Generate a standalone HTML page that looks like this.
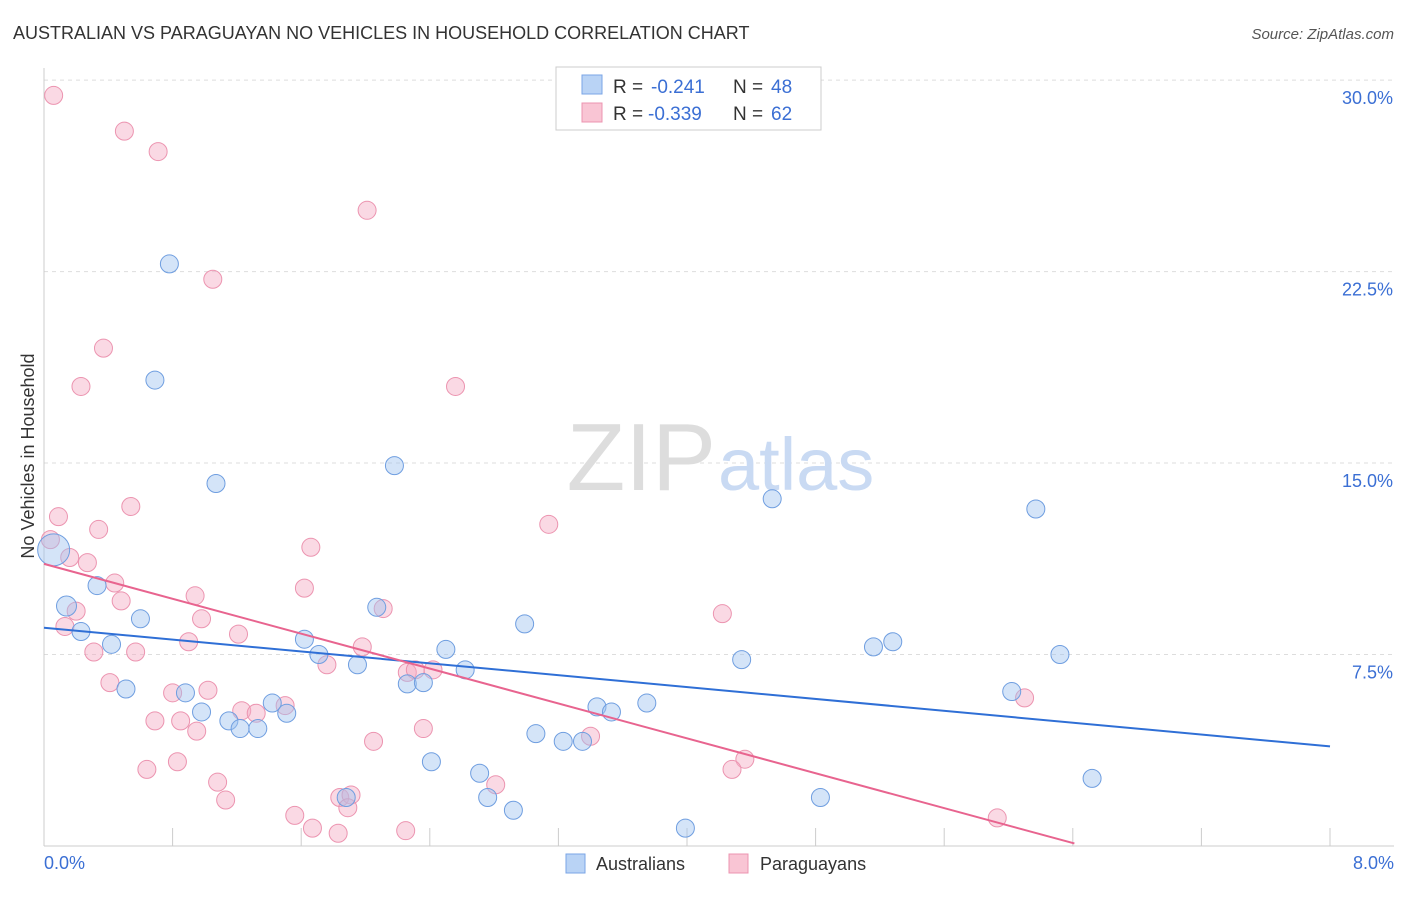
<!DOCTYPE html>
<html><head><meta charset="utf-8"><style>
body{margin:0;background:#fff;font-family:"Liberation Sans",sans-serif;}
svg text{font-family:"Liberation Sans",sans-serif;}
</style></head><body>
<svg width="1406" height="892">
<text x="13" y="39" font-size="18" fill="#333">AUSTRALIAN VS PARAGUAYAN NO VEHICLES IN HOUSEHOLD CORRELATION CHART</text>
<text x="1394" y="39" font-size="15" fill="#555" font-style="italic" text-anchor="end">Source: ZipAtlas.com</text>
<g id="grid"></g>
<line x1="44" y1="68" x2="44" y2="846" stroke="#ccc"/>
<line x1="44" y1="846" x2="1394" y2="846" stroke="#ccc"/>
<g id="xt"></g>
<text x="44" y="869" font-size="18" fill="#3b6fd4">0.0%</text>
<text x="1394" y="869" font-size="18" fill="#3b6fd4" text-anchor="end">8.0%</text>
<text transform="translate(34,456) rotate(-90)" font-size="18" fill="#333" text-anchor="middle">No Vehicles in Household</text>
<text x="716" y="490" font-size="96" fill="#ddd" text-anchor="end" font-family="Liberation Serif">ZIP</text>
<text x="718" y="490" font-size="74" fill="#c9daf3">atlas</text>
<g id="pts"></g>
<g id="lines"></g>
<g>
<rect x="556" y="67" width="265" height="63" fill="#fff" stroke="#ccc"/>
<rect x="582" y="75" width="20" height="19" fill="#b9d3f5" stroke="#7aa5e6"/>
<rect x="582" y="103" width="20" height="19" fill="#f9c5d4" stroke="#ec94b0"/>
<text x="613" y="93" font-size="19" fill="#333">R =</text>
<text x="651" y="93" font-size="19" fill="#3b6fd4">-0.241</text>
<text x="733" y="93" font-size="19" fill="#333">N =</text>
<text x="771" y="93" font-size="19" fill="#3b6fd4">48</text>
<text x="613" y="120" font-size="19" fill="#333">R =</text>
<text x="648" y="120" font-size="19" fill="#3b6fd4">-0.339</text>
<text x="733" y="120" font-size="19" fill="#333">N =</text>
<text x="771" y="120" font-size="19" fill="#3b6fd4">62</text>
</g>
<g>
<rect x="566" y="854" width="19" height="19" fill="#b9d3f5" stroke="#7aa5e6"/>
<text x="596" y="870" font-size="18" fill="#333">Australians</text>
<rect x="729" y="854" width="19" height="19" fill="#f9c5d4" stroke="#ec94b0"/>
<text x="760" y="870" font-size="18" fill="#333">Paraguayans</text>
</g>
</svg>
<script>
const yTicks=[7.5,15,22.5,30];
const yTickLabels=["7.5%","15.0%","22.5%","30.0%"];
const blueX=[0.06,0.14,0.23,0.33,0.42,0.51,0.6,0.69,0.78,0.88,0.98,1.07,1.15,1.22,1.33,1.42,1.51,1.62,1.71,1.95,2.07,2.18,2.26,2.36,2.41,2.5,2.62,2.71,2.76,2.92,2.99,3.06,3.23,3.35,3.44,3.53,3.75,3.99,4.34,4.53,4.83,5.16,5.28,6.02,6.17,6.32,6.52,1.88];
const blueY=[11.6,9.4,8.4,10.2,7.9,6.15,8.9,18.25,22.8,6.0,5.25,14.2,4.9,4.6,4.6,5.6,5.2,8.1,7.5,7.1,9.35,14.9,6.35,6.4,3.3,7.7,6.9,2.85,1.9,1.4,8.7,4.4,4.1,4.1,5.45,5.25,5.6,0.7,7.3,13.6,1.9,7.8,8.0,6.05,13.2,7.5,2.65,1.9];
const blueR=[16,10,9,9,9,9,9,9,9,9,9,9,9,9,9,9,9,9,9,9,9,9,9,9,9,9,9,9,9,9,9,9,9,9,9,9,9,9,9,9,9,9,9,9,9,9,9,9];
const pinkX=[0.06,0.5,0.71,2.01,1.05,0.37,0.23,2.56,0.54,0.09,0.34,3.14,1.66,0.04,0.16,0.27,0.44,1.62,0.94,0.48,0.2,2.11,0.98,0.13,1.21,0.9,0.31,0.57,1.98,1.76,2.26,2.31,2.42,4.22,0.41,0.8,1.02,1.5,1.23,1.32,0.69,0.85,0.95,2.36,3.4,2.05,0.83,0.64,1.08,4.36,4.28,2.81,1.13,1.84,1.91,1.89,1.56,1.67,1.83,2.25,6.1,5.93];
const pinkY=[29.4,28.0,27.2,24.9,22.2,19.5,18.0,18.0,13.3,12.9,12.4,12.6,11.7,12.0,11.3,11.1,10.3,10.1,9.8,9.6,9.2,9.3,8.9,8.6,8.3,8.0,7.6,7.6,7.8,7.1,6.8,6.9,6.9,9.1,6.4,6.0,6.1,5.5,5.3,5.2,4.9,4.9,4.5,4.6,4.3,4.1,3.3,3.0,2.5,3.4,3.0,2.4,1.8,1.9,2.0,1.5,1.2,0.7,0.5,0.6,5.8,1.1];
const blueTrend=[0,8.55,8,3.9];
const pinkTrend=[0,11.05,6.41,0.1];
const X=v=>44+v/8*1286, Y=v=>846-v*25.53;
const NS="http://www.w3.org/2000/svg";
function mk(t,a,p){const e=document.createElementNS(NS,t);for(const k in a)e.setAttribute(k,a[k]);p.appendChild(e);return e;}
const grid=document.getElementById('grid');
yTicks.forEach((v,i)=>{
 const l=mk('line',{x1:44,x2:1394,y1:Y(v),y2:Y(v),stroke:'#ddd','stroke-dasharray':'4,4'},grid);
 
 
 const t=mk('text',{x:1393,y:Y(v)+24,'font-size':18,fill:'#3b6fd4','text-anchor':'end'},grid);
 t.textContent=yTickLabels[i];
 
 
});
const xt=document.getElementById('xt');
for(let i=1;i<=10;i++){const l=mk('line',{x1:X(i*0.8),x2:X(i*0.8),y1:828,y2:846,stroke:'#ccc'},xt);
 
 }
const pts=document.getElementById('pts');
pinkX.forEach((x,i)=>{const c=mk('circle',{cx:X(x),cy:Y(pinkY[i]),r:9,fill:'rgba(245,170,195,0.45)',stroke:'#ec94b0','stroke-width':1},pts);
 
 });
blueX.forEach((x,i)=>{const c=mk('circle',{cx:X(x),cy:Y(blueY[i]),r:blueR[i],fill:'rgba(160,195,240,0.45)',stroke:'#6f9ee0','stroke-width':1},pts);
 
 });
const ln=document.getElementById('lines');
const b=mk('line',{x1:X(blueTrend[0]),y1:Y(blueTrend[1]),x2:X(blueTrend[2]),y2:Y(blueTrend[3]),stroke:'#2f6fd6','stroke-width':2},ln);


const p=mk('line',{x1:X(pinkTrend[0]),y1:Y(pinkTrend[1]),x2:X(pinkTrend[2]),y2:Y(pinkTrend[3]),stroke:'#e8648f','stroke-width':2},ln);


</script>
</body></html>
